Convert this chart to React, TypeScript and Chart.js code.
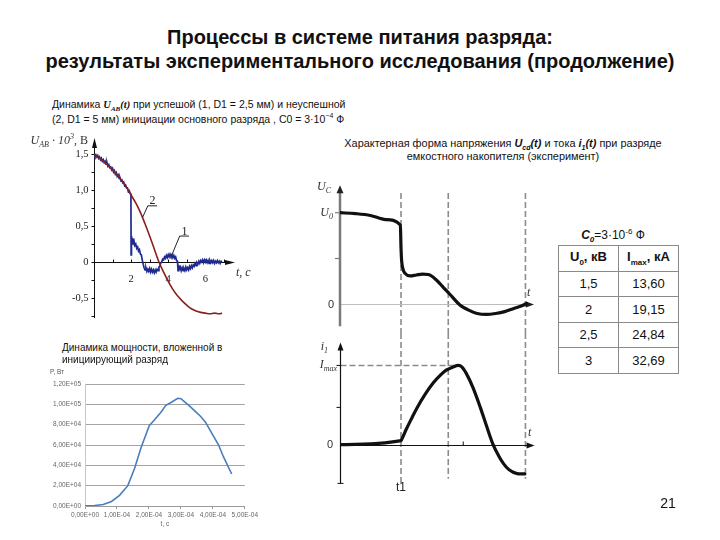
import React, { useEffect, useRef } from "react";
import { Chart, registerables } from "chart.js";
Chart.register(...registerables);

// ---------- Chart 1: U_AB(t), two experiments ----------
const curve2T = [0, 0.25, 0.5, 0.75, 1.0, 1.25, 1.5, 1.75, 2.0, 2.25, 2.5, 2.75, 3.0, 3.25, 3.5, 3.75, 4.0, 4.25, 4.5, 4.75, 5.0, 5.25, 5.5, 5.75, 6.0, 6.25, 6.5, 6.75, 6.9];
const curve2V = [1.49, 1.45, 1.4, 1.34, 1.28, 1.21, 1.13, 1.04, 0.93, 0.82, 0.69, 0.53, 0.36, 0.18, 0.0, -0.14, -0.27, -0.38, -0.47, -0.54, -0.6, -0.65, -0.68, -0.7, -0.71, -0.72, -0.71, -0.72, -0.71];
const curve1: [number, number][] = [
  [0, 1.5], [0.05, 1.47], [0.1, 1.49], [0.15, 1.46], [0.2, 1.48], [0.25, 1.44], [0.3, 1.46], [0.35, 1.42], [0.4, 1.44], [0.45, 1.4],
  [0.5, 1.42], [0.55, 1.38], [0.6, 1.4], [0.65, 1.36], [0.7, 1.38], [0.75, 1.33], [0.8, 1.35], [0.85, 1.31], [0.9, 1.32], [0.95, 1.28],
  [1.0, 1.3], [1.05, 1.25], [1.1, 1.27], [1.15, 1.22], [1.2, 1.24], [1.25, 1.19], [1.3, 1.21], [1.35, 1.16], [1.4, 1.17], [1.45, 1.13],
  [1.5, 1.14], [1.55, 1.1], [1.6, 1.11], [1.65, 1.06], [1.7, 1.07], [1.75, 1.03], [1.8, 1.03], [1.85, 0.98], [1.9, 0.99], [1.95, 0.95],
  [1.99, 0.94], [2.0, 0.1], [2.02, 0.36], [2.05, 0.29], [2.08, 0.33], [2.1, 0.27], [2.15, 0.3], [2.2, 0.23], [2.25, 0.25], [2.3, 0.19],
  [2.35, 0.21], [2.4, 0.15], [2.45, 0.17], [2.5, 0.11], [2.55, 0.1], [2.6, 0.03], [2.65, -0.03], [2.7, -0.08], [2.75, -0.11], [2.8, -0.08],
  [2.85, -0.13], [2.9, -0.1], [2.95, -0.13], [3.0, -0.09], [3.05, -0.14], [3.1, -0.1], [3.15, -0.14], [3.2, -0.11], [3.25, -0.15], [3.3, -0.11],
  [3.35, -0.14], [3.4, -0.1], [3.45, -0.12], [3.5, -0.07], [3.55, -0.06], [3.6, -0.01], [3.65, 0.0], [3.7, 0.04], [3.75, 0.03], [3.8, 0.07],
  [3.85, 0.05], [3.9, 0.09], [3.95, 0.06], [4.0, 0.1], [4.05, 0.07], [4.1, 0.11], [4.15, 0.08], [4.2, 0.1], [4.25, 0.06], [4.3, 0.09],
  [4.35, 0.05], [4.4, 0.07], [4.45, 0.02], [4.5, 0.01], [4.53, -0.12], [4.56, -0.04], [4.6, -0.1], [4.65, -0.07], [4.7, -0.12], [4.75, -0.08],
  [4.8, -0.12], [4.85, -0.09], [4.9, -0.12], [4.95, -0.07], [5.0, -0.11], [5.05, -0.08], [5.1, -0.11], [5.15, -0.06], [5.2, -0.09], [5.25, -0.05],
  [5.3, -0.08], [5.35, -0.04], [5.4, -0.06], [5.45, -0.02], [5.5, -0.05], [5.55, -0.01], [5.6, -0.03], [5.65, 0.01], [5.7, -0.02], [5.75, 0.02],
  [5.8, 0.0], [5.85, 0.03], [5.9, -0.01], [5.95, 0.03], [6.0, 0.0], [6.05, 0.03], [6.1, -0.01], [6.15, 0.02], [6.2, -0.02], [6.25, 0.02],
  [6.3, -0.01], [6.35, 0.02], [6.4, -0.01], [6.45, 0.02], [6.5, -0.02], [6.55, 0.01], [6.6, -0.01], [6.65, 0.02], [6.7, -0.01], [6.75, 0.01],
  [6.8, -0.02], [6.85, 0.01], [6.9, 0.0],
];
const uabYTicks = [1.5, 1.0, 0.5, 0, -0.5];
const uabYTickLabels = ["1,5", "1,0", "0,5", "0", "-0,5"];
const uabYMinor = [1.25, 0.75, 0.25, -0.25, -0.75];
const uabXTicks = [2, 4, 6];
const uabXTickLabels = ["2", "4", "6"];
const uabXMinor = [1, 2, 3, 4, 5, 6, 7];

// ---------- Chart 2: U_C(t) and i_1(t) (schematic) ----------
const ucT = [0, 0.25, 0.5, 0.75, 0.99, 1.0, 1.01, 1.03, 1.07, 1.15, 1.25, 1.35, 1.45, 1.58, 1.7, 1.8, 1.97, 2.1, 2.25, 2.4, 2.55, 2.7, 2.85, 3.0, 3.06];
const ucV = [1.0, 0.99, 0.97, 0.925, 0.866, 0.62, 0.48, 0.39, 0.335, 0.31, 0.32, 0.33, 0.325, 0.265, 0.18, 0.11, -0.01, -0.06, -0.1, -0.11, -0.1, -0.08, -0.045, -0.01, 0.01];
const iT = [0, 1.0, 1.02, 1.09, 1.18, 1.26, 1.4, 1.53, 1.65, 1.74, 1.85, 1.94, 2.0, 2.07, 2.18, 2.3, 2.4, 2.51, 2.6, 2.68, 2.76, 2.84, 2.93, 3.03];
const iV = [0, 0.05, 0.08, 0.2, 0.34, 0.46, 0.64, 0.78, 0.88, 0.94, 0.98, 1.0, 0.98, 0.9, 0.72, 0.47, 0.24, 0.0, -0.14, -0.24, -0.31, -0.35, -0.37, -0.37];
const markerT = [1.0, 1.775, 3.04];
const iPeakT = 1.94;

// ---------- Chart 3: power ----------
const powT = [0, 0.3e-4, 0.57e-4, 0.83e-4, 1.08e-4, 1.34e-4, 1.55e-4, 1.75e-4, 2.01e-4, 2.17e-4, 2.37e-4, 2.53e-4, 2.73e-4, 2.9e-4, 3.0e-4, 3.1e-4, 3.25e-4, 3.45e-4, 3.62e-4, 3.77e-4, 3.97e-4, 4.18e-4, 4.33e-4, 4.59e-4];
const powP = [200, 500, 1500, 4500, 10500, 20000, 36800, 57000, 79000, 84500, 92000, 99000, 102500, 106000, 105500, 103000, 99000, 93000, 88000, 82500, 71500, 60000, 48500, 31500];
const powXTicks = [0, 1e-4, 2e-4, 3e-4, 4e-4, 5e-4];
const powXTickLabels = ["0,00E+00", "1,00E-04", "2,00E-04", "3,00E-04", "4,00E-04", "5,00E-04"];
const powYTicks = [0, 2e4, 4e4, 6e4, 8e4, 1e5, 1.2e5];
const powYTickLabels = ["0,00E+00", "2,00E+04", "4,00E+04", "6,00E+04", "8,00E+04", "1,00E+05", "1,20E+05"];

// ---------- Table ----------
const tableU = ["1,5", "2", "2,5", "3"];
const tableI = ["13,60", "19,15", "24,84", "32,69"];

const SERIF = '"Liberation Serif", "DejaVu Serif", serif';
const SANS = '"Liberation Sans", Arial, sans-serif';

function line(ctx: CanvasRenderingContext2D, x1: number, y1: number, x2: number, y2: number) {
  ctx.beginPath();
  ctx.moveTo(x1, y1);
  ctx.lineTo(x2, y2);
  ctx.stroke();
}
function arrowHead(ctx: CanvasRenderingContext2D, x: number, y: number, dir: "up" | "right", len = 8, half = 3) {
  ctx.beginPath();
  if (dir === "up") {
    ctx.moveTo(x, y);
    ctx.lineTo(x - half, y + len);
    ctx.lineTo(x + half, y + len);
  } else {
    ctx.moveTo(x, y);
    ctx.lineTo(x - len, y - half);
    ctx.lineTo(x - len, y + half);
  }
  ctx.closePath();
  ctx.fill();
}

const baseOpts = (padding: any, xr: [number, number], yr: [number, number]) => ({
  responsive: false,
  animation: false as const,
  events: [] as any[],
  layout: { padding },
  plugins: { legend: { display: false }, tooltip: { enabled: false } },
  scales: {
    x: { type: "linear" as const, display: false, min: xr[0], max: xr[1] },
    y: { type: "linear" as const, display: false, min: yr[0], max: yr[1] },
  },
});

function makeUab() {
  const axes = {
    id: "uabAxes",
    beforeDatasetsDraw(chart: any) {
      const { ctx, scales: { x, y } } = chart;
      const X0 = Math.round(x.getPixelForValue(0)) + 0.5;
      const Y0 = Math.round(y.getPixelForValue(0)) + 0.5;
      const yTop = y.getPixelForValue(y.max);
      const yBot = y.getPixelForValue(y.min);
      const xEnd = x.getPixelForValue(x.max);
      ctx.save();
      ctx.strokeStyle = "#111";
      ctx.fillStyle = "#111";
      ctx.lineWidth = 1;
      line(ctx, X0, yTop + 6, X0, yBot);
      arrowHead(ctx, X0, yTop, "up", 10, 2.5);
      line(ctx, X0, Y0, xEnd - 6, Y0);
      arrowHead(ctx, xEnd, Y0, "right", 10, 2.5);
      uabYTicks.concat(uabYMinor).forEach((v) => {
        const py = Math.round(y.getPixelForValue(v)) + 0.5;
        line(ctx, X0 - 3, py, X0, py);
      });
      uabXMinor.forEach((v) => {
        const px = Math.round(x.getPixelForValue(v)) + 0.5;
        line(ctx, px, Y0 - 3, px, Y0);
      });
      ctx.font = `10.5px ${SERIF}`;
      ctx.fillStyle = "#222";
      ctx.textAlign = "right";
      ctx.textBaseline = "middle";
      uabYTicks.forEach((v, i) => ctx.fillText(uabYTickLabels[i], X0 - 6, y.getPixelForValue(v)));
      ctx.textAlign = "center";
      uabXTicks.forEach((v, i) => ctx.fillText(uabXTickLabels[i], x.getPixelForValue(v), Y0 + 17));
      ctx.restore();
    },
    afterDatasetsDraw(chart: any) {
      const { ctx, scales: { x, y } } = chart;
      const P = (t: number, v: number) => [x.getPixelForValue(t), y.getPixelForValue(v)];
      ctx.save();
      ctx.strokeStyle = "#222";
      ctx.fillStyle = "#222";
      ctx.lineWidth = 1;
      // label 2
      let a = P(2.62, 0.62), b = P(2.9, 0.78), c = P(3.4, 0.78);
      ctx.beginPath(); ctx.moveTo(a[0], a[1]); ctx.lineTo(b[0], b[1]); ctx.lineTo(c[0], c[1]); ctx.stroke();
      ctx.font = `12px ${SERIF}`;
      ctx.textAlign = "center";
      ctx.textBaseline = "alphabetic";
      let t = P(3.15, 0.8);
      ctx.fillText("2", t[0], t[1]);
      // label 1
      a = P(4.2, 0.1); b = P(4.62, 0.36); c = P(5.12, 0.36);
      ctx.beginPath(); ctx.moveTo(a[0], a[1]); ctx.lineTo(b[0], b[1]); ctx.lineTo(c[0], c[1]); ctx.stroke();
      t = P(4.88, 0.38);
      ctx.fillText("1", t[0], t[1]);
      ctx.restore();
    },
  };
  return {
    type: "line" as const,
    data: {
      datasets: [
        {
          data: curve2T.map((t, i) => ({ x: t, y: curve2V[i] })),
          borderColor: "#8a1f1f",
          borderWidth: 1.6,
          pointRadius: 0,
          tension: 0.35,
        },
        {
          data: curve1.map(([t, v]) => ({ x: t, y: v })),
          borderColor: "#1f2a8e",
          borderWidth: 1.7,
          pointRadius: 0,
          tension: 0,
        },
      ],
    },
    options: baseOpts({ left: 44, right: 25, top: 8, bottom: 7 }, [0, 7.6], [-0.778, 1.722]),
    plugins: [axes],
  };
}

function makeUc() {
  const axes = {
    id: "ucAxes",
    beforeDatasetsDraw(chart: any) {
      const { ctx, scales: { x, y } } = chart;
      const X0 = x.getPixelForValue(0);
      const Y0 = Math.round(y.getPixelForValue(0)) + 0.5;
      ctx.save();
      ctx.strokeStyle = "#8c8c8c";
      ctx.lineWidth = 1.6;
      ctx.setLineDash([6, 3]);
      markerT.forEach((t) => {
        const px = x.getPixelForValue(t);
        line(ctx, px, y.getPixelForValue(1.215), px, chart.height);
      });
      ctx.setLineDash([]);
      ctx.strokeStyle = "#bdbdbd";
      ctx.lineWidth = 1;
      line(ctx, X0, Y0, x.getPixelForValue(3.12), Y0);
      ctx.fillStyle = "#222";
      arrowHead(ctx, x.getPixelForValue(3.18), Y0, "right", 8, 3);
      ctx.strokeStyle = "#7a7a7a";
      ctx.lineWidth = 2.5;
      line(ctx, X0, y.getPixelForValue(1.22), X0, y.getPixelForValue(-0.24));
      arrowHead(ctx, X0, y.getPixelForValue(1.3), "up", 8, 3.5);
      ctx.lineWidth = 1.2;
      [1, 0.5].forEach((v) => {
        const py = y.getPixelForValue(v);
        line(ctx, X0 - 5, py, X0, py);
      });
      ctx.restore();
    },
  };
  return {
    type: "line" as const,
    data: {
      datasets: [
        {
          data: ucT.map((t, i) => ({ x: t, y: ucV[i] })),
          borderColor: "#111",
          borderWidth: 3.2,
          pointRadius: 0,
          cubicInterpolationMode: "monotone" as const,
          borderCapStyle: "round" as const,
          borderJoinStyle: "round" as const,
        },
      ],
    },
    options: baseOpts({ left: 40, right: 4.8, top: 0, bottom: 0 }, [0, 3.2], [-0.313, 1.357]),
    plugins: [axes],
  };
}

function makeI() {
  const axes = {
    id: "iAxes",
    beforeDatasetsDraw(chart: any) {
      const { ctx, scales: { x, y } } = chart;
      const X0 = Math.round(x.getPixelForValue(0)) + 0.5;
      const Y0 = Math.round(y.getPixelForValue(0)) + 0.5;
      ctx.save();
      ctx.strokeStyle = "#8c8c8c";
      ctx.lineWidth = 1.6;
      ctx.setLineDash([6, 3]);
      markerT.forEach((t, i) => {
        const px = x.getPixelForValue(t);
        line(ctx, px, 0, px, y.getPixelForValue(i === 0 ? -0.49 : -0.43));
      });
      const pk = y.getPixelForValue(1);
      line(ctx, X0, pk, x.getPixelForValue(iPeakT), pk);
      ctx.setLineDash([]);
      ctx.strokeStyle = "#111";
      ctx.fillStyle = "#111";
      ctx.lineWidth = 1.2;
      line(ctx, X0, y.getPixelForValue(1.22), X0, y.getPixelForValue(-0.49));
      arrowHead(ctx, X0, y.getPixelForValue(1.29), "up", 8, 3);
      ctx.lineWidth = 1;
      line(ctx, X0, Y0, x.getPixelForValue(3.12), Y0);
      arrowHead(ctx, x.getPixelForValue(3.19), Y0, "right", 8, 3);
      [1, 0.47].forEach((v) => {
        const py = y.getPixelForValue(v);
        line(ctx, X0 - 4, py, X0, py);
      });
      const pb = y.getPixelForValue(-0.49);
      line(ctx, X0 - 3, pb, X0 + 3, pb);
      const tx = x.getPixelForValue(2.02);
      line(ctx, tx, Y0 - 4, tx, Y0);
      ctx.restore();
    },
  };
  return {
    type: "line" as const,
    data: {
      datasets: [
        {
          data: iT.map((t, i) => ({ x: t, y: iV[i] })),
          borderColor: "#111",
          borderWidth: 3.2,
          pointRadius: 0,
          cubicInterpolationMode: "monotone" as const,
          borderCapStyle: "round" as const,
          borderJoinStyle: "round" as const,
        },
      ],
    },
    options: baseOpts({ left: 40, right: 4.8, top: 0, bottom: 0 }, [0, 3.2], [-0.7, 1.41]),
    plugins: [axes],
  };
}

function makePower() {
  const tickFont = { size: 6.5, family: SANS };
  return {
    type: "line" as const,
    data: {
      datasets: [
        {
          data: powT.map((t, i) => ({ x: t, y: powP[i] })),
          borderColor: "#4a7ebb",
          borderWidth: 1.6,
          pointRadius: 0,
          tension: 0,
        },
      ],
    },
    options: {
      responsive: false,
      animation: false as const,
      events: [] as any[],
      layout: { padding: { top: 19, right: 12, left: 0, bottom: 0 } },
      plugins: { legend: { display: false }, tooltip: { enabled: false } },
      scales: {
        x: {
          type: "linear" as const,
          min: 0,
          max: 5e-4,
          afterBuildTicks: (s: any) => {
            s.ticks = powXTicks.map((value) => ({ value }));
          },
          afterFit: (s: any) => {
            s.height = 24;
          },
          ticks: {
            callback: (_v: any, i: number) => powXTickLabels[i],
            font: tickFont,
            color: "#666",
            maxRotation: 0,
            autoSkip: false,
            padding: 2,
          },
          grid: { display: true, drawOnChartArea: false, tickLength: 3, color: "#9a9a9a" },
          border: { color: "#9a9a9a" },
          title: { display: true, text: "t, c", font: tickFont, color: "#666", padding: { top: 0, bottom: 2 } },
        },
        y: {
          type: "linear" as const,
          min: 0,
          max: 1.2e5,
          afterBuildTicks: (s: any) => {
            s.ticks = powYTicks.map((value) => ({ value }));
          },
          afterFit: (s: any) => {
            s.width = 45;
          },
          ticks: {
            callback: (_v: any, i: number) => powYTickLabels[i],
            font: tickFont,
            color: "#666",
            autoSkip: false,
            padding: 4,
          },
          grid: { color: "#a3a3a3", drawTicks: false },
          border: { color: "#c8c8c8" },
        },
      },
    },
  };
}

function ChartBox({ left, top, width, height, make }: { left: number; top: number; width: number; height: number; make: () => any }) {
  const ref = useRef<HTMLCanvasElement>(null);
  useEffect(() => {
    const chart = new Chart(ref.current as HTMLCanvasElement, make());
    return () => chart.destroy();
  }, []);
  return (
    <div style={{ position: "absolute", left, top, width, height }}>
      <canvas ref={ref} width={width} height={height} style={{ width, height, display: "block" }} />
    </div>
  );
}

const abs = (left: number, top: number, extra: React.CSSProperties = {}): React.CSSProperties => ({
  position: "absolute",
  left,
  top,
  whiteSpace: "nowrap",
  lineHeight: 1,
  ...extra,
});

const mathStyle: React.CSSProperties = { fontFamily: SERIF, fontStyle: "italic", color: "#333" };

export default function App() {
  const cell: React.CSSProperties = {
    border: "1px solid #8a8a8a",
    textAlign: "center",
    height: 24.5,
    padding: 0,
    fontSize: 13,
  };
  return (
    <div style={{ position: "absolute", left: 0, top: 0, width: 720, height: 540, background: "#fff", fontFamily: SANS, color: "#111", overflow: "hidden" }}>
      {/* Title */}
      <div style={abs(0, 27, { width: 720, textAlign: "center", fontSize: 20, fontWeight: "bold" })}>Процессы в системе питания разряда:</div>
      <div style={abs(0, 50.5, { width: 720, textAlign: "center", fontSize: 20, fontWeight: "bold" })}>результаты экспериментального исследования (продолжение)</div>

      {/* Left subtitle */}
      <div style={abs(52, 98.5, { fontSize: 10.5 })}>
        Динамика <b style={{ fontStyle: "italic", fontFamily: SERIF }}>U<sub style={{ fontSize: 7 }}>AB</sub>(t)</b> при успешой (1, D1 = 2,5 мм) и неуспешной
      </div>
      <div style={abs(52, 111.5, { fontSize: 10.5 })}>(2, D1 = 5 мм) инициации основного разряда , C0 = 3·10<sup style={{ fontSize: 7 }}>−4</sup> Ф</div>

      {/* Right caption */}
      <div style={abs(503, 137.5, { fontSize: 10.9, transform: "translateX(-50%)" })}>
        Характерная форма напряжения <b style={{ fontStyle: "italic" }}>U<sub style={{ fontSize: 7 }}>cd</sub>(t)</b> и тока <b style={{ fontStyle: "italic" }}>i<sub style={{ fontSize: 7 }}>1</sub>(t)</b> при разряде
      </div>
      <div style={abs(503, 150.5, { fontSize: 10.9, transform: "translateX(-50%)" })}>емкостного накопителя (эксперимент)</div>

      {/* Charts */}
      <ChartBox left={50} top={130} width={210} height={195} make={makeUab} />
      <ChartBox left={300} top={180} width={240} height={153} make={makeUc} />
      <ChartBox left={300} top={333} width={240} height={167} make={makeI} />
      <ChartBox left={40} top={365} width={220} height={165} make={makePower} />

      {/* Chart 1 axis labels */}
      <div style={abs(0, 133, { width: 88, textAlign: "right", fontSize: 12, ...mathStyle })}>
        U<sub style={{ fontSize: 8 }}>AB</sub> · 10<sup style={{ fontSize: 8 }}>3</sup>, <span style={{ fontStyle: "normal" }}>B</span>
      </div>
      <div style={abs(236, 266, { fontSize: 12, ...mathStyle })}>t, c</div>

      {/* Schematic labels */}
      <div style={abs(300, 180, { width: 31, textAlign: "right", fontSize: 12, ...mathStyle })}>
        U<sub style={{ fontSize: 8 }}>C</sub>
      </div>
      <div style={abs(300, 206, { width: 33, textAlign: "right", fontSize: 12, ...mathStyle })}>
        U<sub style={{ fontSize: 8 }}>0</sub>
      </div>
      <div style={abs(328, 298.5, { fontSize: 11, color: "#333" })}>0</div>
      <div style={abs(527, 286, { fontSize: 12, ...mathStyle })}>t</div>

      <div style={abs(300, 340, { width: 28, textAlign: "right", fontSize: 12, ...mathStyle })}>
        i<sub style={{ fontSize: 8 }}>1</sub>
      </div>
      <div style={abs(300, 358, { width: 37, textAlign: "right", fontSize: 12, ...mathStyle })}>
        I<sub style={{ fontSize: 8 }}>max</sub>
      </div>
      <div style={abs(327, 439, { fontSize: 11, color: "#333" })}>0</div>
      <div style={abs(528, 426, { fontSize: 12, ...mathStyle })}>t</div>
      <div style={abs(401, 481, { fontSize: 12, color: "#222", transform: "translateX(-50%)" })}>t1</div>

      {/* C0 + table */}
      <div style={abs(613, 228, { fontSize: 12, transform: "translateX(-50%)" })}>
        <b style={{ fontStyle: "italic" }}>C<sub style={{ fontSize: 8 }}>0</sub></b>=3·10<sup style={{ fontSize: 8 }}>-6</sup> Ф
      </div>
      <table style={{ position: "absolute", left: 558, top: 245, width: 121, borderCollapse: "collapse", fontFamily: SANS, color: "#111" }}>
        <tbody>
          <tr>
            <td style={{ ...cell, width: 59, fontWeight: "bold" }}>
              U<sub style={{ fontSize: 8 }}>0</sub>, кВ
            </td>
            <td style={{ ...cell, fontWeight: "bold" }}>
              I<sub style={{ fontSize: 8 }}>max</sub>, кА
            </td>
          </tr>
          {tableU.map((u, i) => (
            <tr key={u}>
              <td style={cell}>{u}</td>
              <td style={cell}>{tableI[i]}</td>
            </tr>
          ))}
        </tbody>
      </table>

      {/* Power chart caption and y title */}
      <div style={abs(62, 342.5, { fontSize: 10 })}>Динамика мощности, вложенной в</div>
      <div style={abs(62, 355, { fontSize: 10 })}>инициирующий разряд</div>
      <div style={abs(50, 369, { fontSize: 6.5, color: "#555" })}>P, Вт</div>

      {/* Page number */}
      <div style={abs(668, 496, { fontSize: 14, transform: "translateX(-50%)" })}>21</div>
    </div>
  );
}
